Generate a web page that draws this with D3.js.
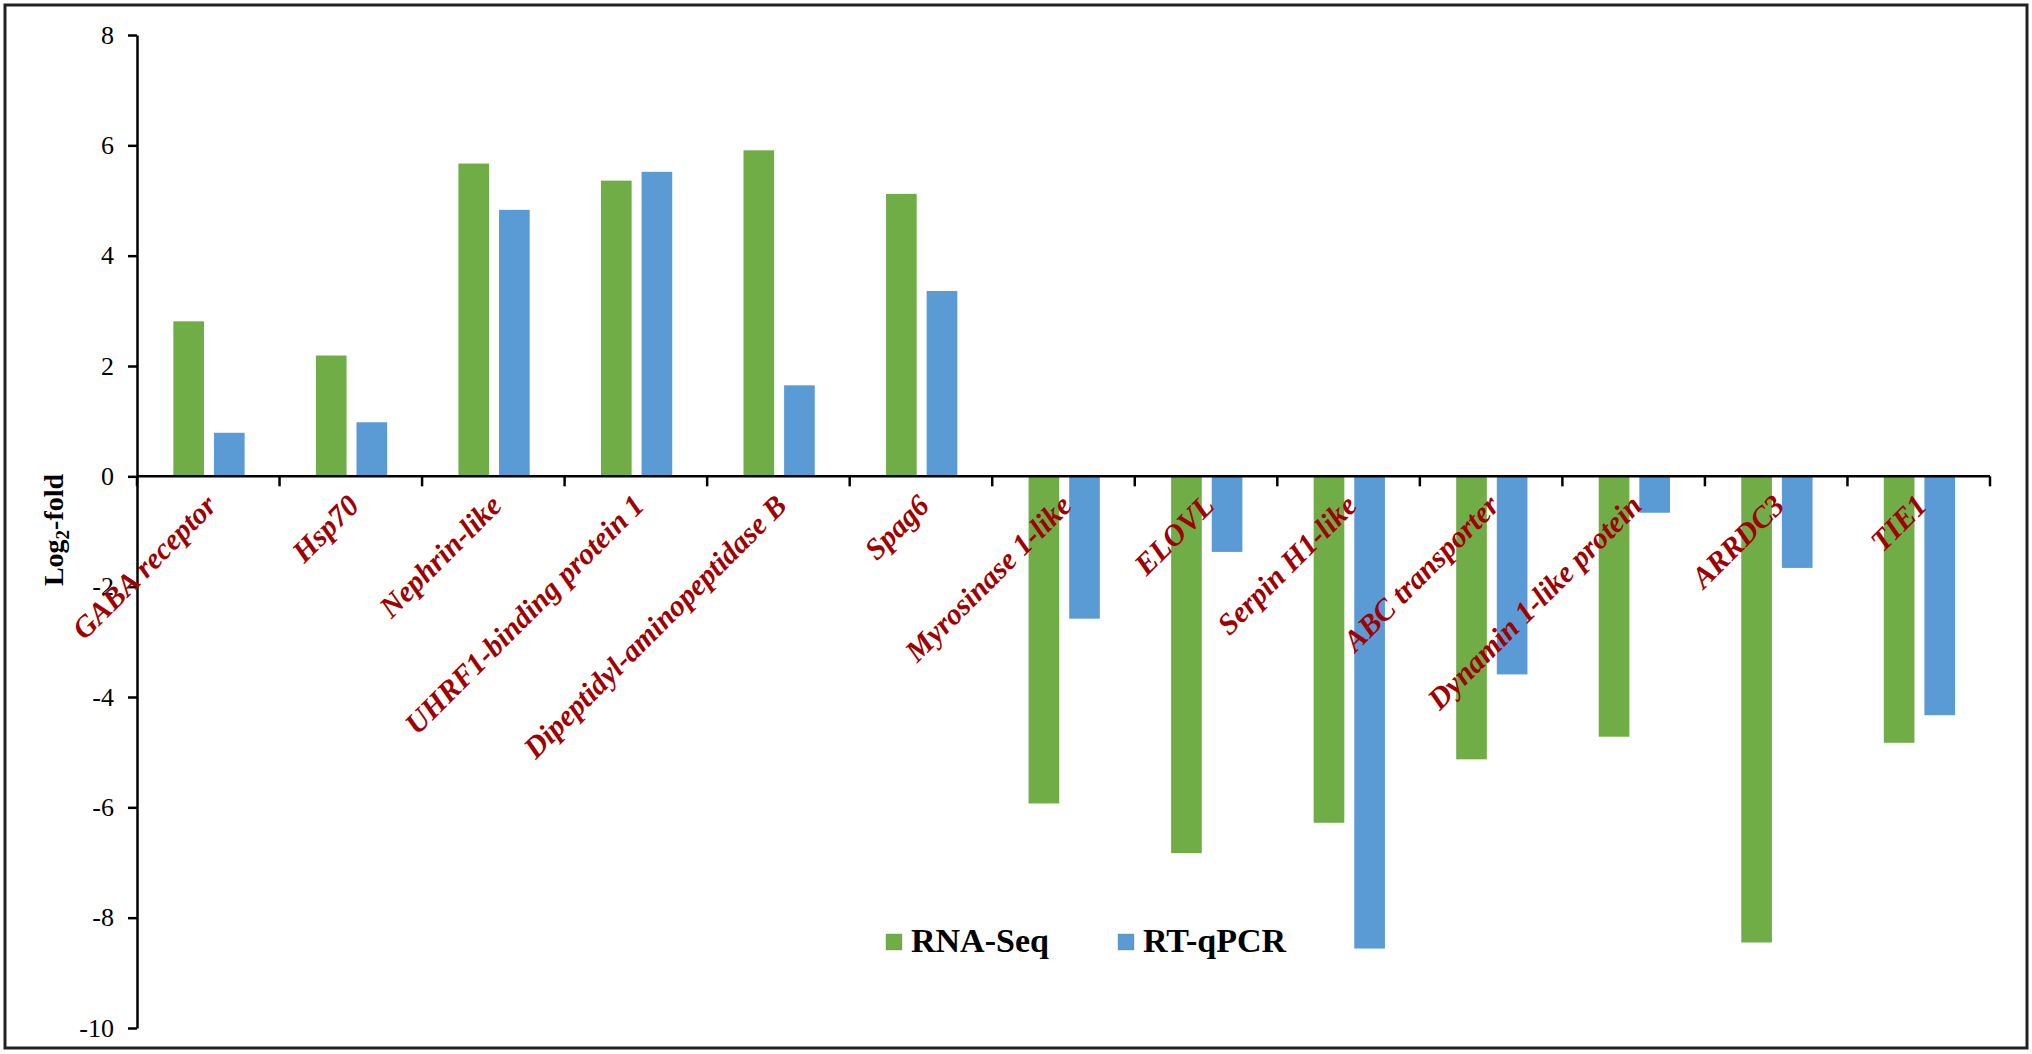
<!DOCTYPE html>
<html>
<head>
<meta charset="utf-8">
<script src="https://cdn.jsdelivr.net/npm/d3@7/dist/d3.min.js"></script>
<style>
  body { margin: 0; background: #fff; }
  svg { display: block; }
  .axis path, .axis line { stroke: #000; stroke-width: 2.5; }
</style>
</head>
<body>
<div id="chart"></div>
<script>
// 数据
const genes = ["GABA receptor", "Hsp70", "Nephrin-like", "UHRF1-binding protein 1",
  "Dipeptidyl-aminopeptidase B", "Spag6", "Myrosinase 1-like", "ELOVL",
  "Serpin H1-like", "ABC transporter", "Dynamin 1-like protein", "ARRDC3", "TIE1"];
const seriesNames = ["RNA-Seq", "RT-qPCR"];
const rnaSeq = [2.81, 2.19, 5.67, 5.36, 5.91, 5.12, -5.93, -6.83, -6.28, -5.13, -4.72, -8.45, -4.83];
const rtqPCR = [0.79, 0.98, 4.83, 5.52, 1.65, 3.36, -2.58, -1.37, -8.56, -3.59, -0.66, -1.66, -4.33];
const yTicks = [8, 6, 4, 2, 0, -2, -4, -6, -8, -10];
const colors = { "RNA-Seq": "#70AD47", "RT-qPCR": "#5B9BD5" };

const W = 2032, H = 1054;
const serif = "'Liberation Serif', 'Times New Roman', serif";

const svg = d3.select("#chart").append("svg")
  .attr("width", W)
  .attr("height", H);

// 外框
svg.append("rect")
  .attr("x", 5).attr("y", 5)
  .attr("width", W - 10).attr("height", H - 11)
  .attr("fill", "#fff")
  .attr("stroke", "#222")
  .attr("stroke-width", 3);

const plotLeft = 137, plotRight = 1990, plotTop = 35, plotBottom = 1028;

const x = d3.scaleBand().domain(genes).range([plotLeft, plotRight]);
const bw = x.bandwidth();
const xInner = d3.scaleBand().domain(seriesNames)
  .range([bw * 0.255, bw * 0.755])
  .paddingInner(0.245);
const y = d3.scaleLinear().domain([-10, 8]).range([plotBottom, plotTop]);

const rows = genes.map((g, i) => ({ gene: g, values: [
  { key: "RNA-Seq", value: rnaSeq[i] },
  { key: "RT-qPCR", value: rtqPCR[i] }
]}));

// 柱子
const groups = svg.append("g").selectAll("g")
  .data(rows)
  .enter().append("g")
  .attr("transform", d => `translate(${x(d.gene)},0)`);

groups.selectAll("rect")
  .data(d => d.values)
  .enter().append("rect")
  .attr("x", d => xInner(d.key))
  .attr("width", xInner.bandwidth())
  .attr("y", d => y(Math.max(0, d.value)))
  .attr("height", d => Math.abs(y(d.value) - y(0)))
  .attr("fill", d => colors[d.key]);

// Y轴（用普通连字符作负号）
const yAxis = svg.append("g")
  .attr("class", "axis")
  .attr("transform", `translate(${plotLeft},0)`)
  .call(d3.axisLeft(y).tickValues(yTicks).tickFormat(d => String(d))
    .tickSize(9).tickSizeOuter(0).tickPadding(14));
yAxis.selectAll("text")
  .attr("font-family", serif)
  .attr("font-size", 26)
  .attr("fill", "#000");

// X轴（零线）
const y0 = y(0);
svg.append("line")
  .attr("x1", plotLeft).attr("x2", plotRight)
  .attr("y1", y0).attr("y2", y0)
  .attr("stroke", "#000").attr("stroke-width", 2.5);

// 分类边界刻度
const boundaries = genes.map(g => x(g)).concat([plotRight]);
svg.append("g").selectAll("line")
  .data(boundaries)
  .enter().append("line")
  .attr("x1", d => d).attr("x2", d => d)
  .attr("y1", y0).attr("y2", y0 + 10)
  .attr("stroke", "#000").attr("stroke-width", 2.5);

// 基因标签，旋转45度
svg.append("g").selectAll("text")
  .data(genes)
  .enter().append("text")
  .attr("transform", d => `translate(${x(d) + bw / 2 + 10},${y0 + 31}) rotate(-45)`)
  .attr("text-anchor", "end")
  .attr("font-family", serif)
  .attr("font-size", 30)
  .attr("font-weight", "bold")
  .attr("font-style", "italic")
  .attr("fill", "#A00000")
  .text(d => d);

// Y轴标题
const yTitle = svg.append("text")
  .attr("transform", `translate(63,530) rotate(-90)`)
  .attr("text-anchor", "middle")
  .attr("font-family", serif)
  .attr("font-size", 28)
  .attr("font-weight", "bold")
  .attr("fill", "#000");
yTitle.append("tspan").text("Log");
yTitle.append("tspan").attr("font-size", 19).attr("dy", 6).text("2");
yTitle.append("tspan").attr("dy", -6).text("-fold");

// 图例
const legendX = [886, 1118];
const legend = svg.append("g").selectAll("g")
  .data(seriesNames)
  .enter().append("g")
  .attr("transform", (d, i) => `translate(${legendX[i]},934)`);
legend.append("rect")
  .attr("width", 16).attr("height", 16)
  .attr("fill", d => colors[d])
  .attr("stroke", "#5a7f3a")
  .attr("stroke-opacity", 0.3);
legend.append("text")
  .attr("x", 25).attr("y", 18)
  .attr("font-family", serif)
  .attr("font-size", 34)
  .attr("font-weight", "bold")
  .attr("fill", "#000")
  .text(d => d);
</script>
</body>
</html>
